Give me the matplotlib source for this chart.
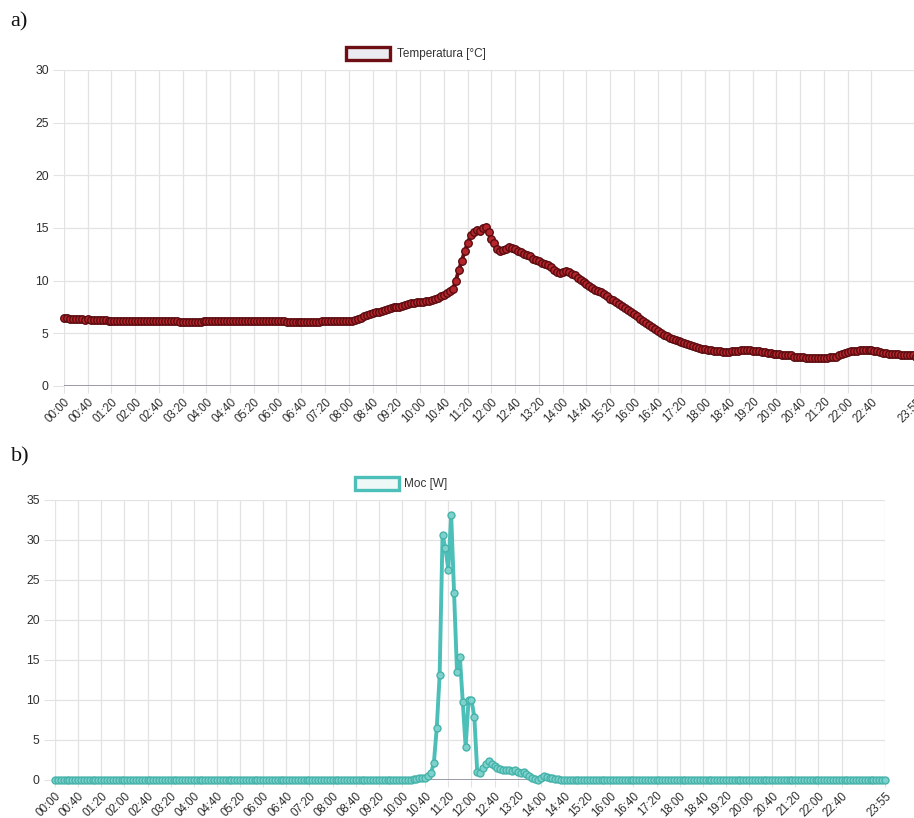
import matplotlib
matplotlib.use("Agg")
import matplotlib.pyplot as plt
from matplotlib.patches import Rectangle

# 5-minute sampling over one day: 00:00 ... 23:55 (288 samples)
times = [f"{h:02d}:{m:02d}" for h in range(24) for m in range(0, 60, 5)]

# Temperature [°C], one row per hour
temperature = [
    6.5, 6.5, 6.4, 6.4, 6.4, 6.4, 6.4, 6.3, 6.4, 6.3, 6.3, 6.3,
    6.3, 6.3, 6.3, 6.2, 6.2, 6.2, 6.2, 6.2, 6.2, 6.2, 6.2, 6.2,
    6.2, 6.2, 6.2, 6.2, 6.2, 6.2, 6.2, 6.2, 6.2, 6.2, 6.2, 6.2,
    6.2, 6.2, 6.2, 6.1, 6.1, 6.1, 6.1, 6.1, 6.1, 6.1, 6.1, 6.2,
    6.2, 6.2, 6.2, 6.2, 6.2, 6.2, 6.2, 6.2, 6.2, 6.2, 6.2, 6.2,
    6.2, 6.2, 6.2, 6.2, 6.2, 6.2, 6.2, 6.2, 6.2, 6.2, 6.2, 6.2,
    6.2, 6.2, 6.2, 6.1, 6.1, 6.1, 6.1, 6.1, 6.1, 6.1, 6.1, 6.1,
    6.1, 6.1, 6.1, 6.2, 6.2, 6.2, 6.2, 6.2, 6.2, 6.2, 6.2, 6.2,
    6.2, 6.2, 6.3, 6.4, 6.5, 6.6, 6.7, 6.8, 6.9, 7.0, 7.0, 7.1,
    7.2, 7.3, 7.4, 7.5, 7.5, 7.5, 7.6, 7.7, 7.8, 7.9, 7.9, 8.0,
    8.0, 8.0, 8.1, 8.1, 8.2, 8.3, 8.4, 8.5, 8.6, 8.8, 9.0, 9.2,
    10.0, 11.0, 11.9, 12.8, 13.6, 14.3, 14.6, 14.8, 14.7, 15.0, 15.1, 14.6,
    14.0, 13.6, 13.0, 12.8, 12.9, 13.0, 13.2, 13.1, 13.0, 12.8, 12.7, 12.5,
    12.4, 12.3, 12.1, 12.0, 11.9, 11.7, 11.6, 11.5, 11.3, 11.0, 10.8, 10.7,
    10.8, 10.9, 10.8, 10.6, 10.5, 10.3, 10.1, 9.9, 9.7, 9.5, 9.3, 9.1,
    9.0, 8.9, 8.7, 8.5, 8.3, 8.2, 8.0, 7.8, 7.6, 7.4, 7.2, 7.0,
    6.8, 6.6, 6.4, 6.2, 6.0, 5.8, 5.6, 5.4, 5.2, 5.0, 4.8, 4.7,
    4.6, 4.5, 4.4, 4.3, 4.2, 4.1, 4.0, 3.9, 3.8, 3.7, 3.6, 3.5,
    3.5, 3.4, 3.4, 3.3, 3.3, 3.3, 3.2, 3.2, 3.2, 3.3, 3.3, 3.3,
    3.4, 3.4, 3.4, 3.4, 3.3, 3.3, 3.3, 3.2, 3.2, 3.1, 3.1, 3.0,
    3.0, 3.0, 2.9, 2.9, 2.9, 2.9, 2.8, 2.8, 2.8, 2.8, 2.7, 2.7,
    2.7, 2.7, 2.7, 2.7, 2.7, 2.7, 2.8, 2.8, 2.8, 2.9, 3.0, 3.1,
    3.2, 3.3, 3.3, 3.3, 3.4, 3.4, 3.4, 3.4, 3.4, 3.3, 3.3, 3.2,
    3.1, 3.1, 3.0, 3.0, 3.0, 3.0, 2.9, 2.9, 2.9, 2.9, 2.9, 2.8,
]

# Power [W], one row per hour
power = [
    0.0, 0.0, 0.0, 0.0, 0.0, 0.0, 0.0, 0.0, 0.0, 0.0, 0.0, 0.0,
    0.0, 0.0, 0.0, 0.0, 0.0, 0.0, 0.0, 0.0, 0.0, 0.0, 0.0, 0.0,
    0.0, 0.0, 0.0, 0.0, 0.0, 0.0, 0.0, 0.0, 0.0, 0.0, 0.0, 0.0,
    0.0, 0.0, 0.0, 0.0, 0.0, 0.0, 0.0, 0.0, 0.0, 0.0, 0.0, 0.0,
    0.0, 0.0, 0.0, 0.0, 0.0, 0.0, 0.0, 0.0, 0.0, 0.0, 0.0, 0.0,
    0.0, 0.0, 0.0, 0.0, 0.0, 0.0, 0.0, 0.0, 0.0, 0.0, 0.0, 0.0,
    0.0, 0.0, 0.0, 0.0, 0.0, 0.0, 0.0, 0.0, 0.0, 0.0, 0.0, 0.0,
    0.0, 0.0, 0.0, 0.0, 0.0, 0.0, 0.0, 0.0, 0.0, 0.0, 0.0, 0.0,
    0.0, 0.0, 0.0, 0.0, 0.0, 0.0, 0.0, 0.0, 0.0, 0.0, 0.0, 0.0,
    0.0, 0.0, 0.0, 0.0, 0.0, 0.0, 0.0, 0.0, 0.0, 0.0, 0.0, 0.0,
    0.0, 0.0, 0.0, 0.0, 0.1, 0.1, 0.2, 0.2, 0.3, 0.5, 0.9, 2.1,
    6.5, 13.1, 30.6, 29.0, 26.3, 33.1, 23.4, 13.5, 15.4, 9.8, 4.1, 10.0,
    10.0, 7.9, 1.0, 0.9, 1.5, 2.0, 2.4, 2.0, 1.7, 1.5, 1.4, 1.3,
    1.3, 1.2, 1.1, 1.2, 1.0, 0.9, 1.0, 0.8, 0.5, 0.3, 0.1, 0.0,
    0.3, 0.5, 0.4, 0.3, 0.2, 0.1, 0.1, 0.0, 0.0, 0.0, 0.0, 0.0,
    0.0, 0.0, 0.0, 0.0, 0.0, 0.0, 0.0, 0.0, 0.0, 0.0, 0.0, 0.0,
    0.0, 0.0, 0.0, 0.0, 0.0, 0.0, 0.0, 0.0, 0.0, 0.0, 0.0, 0.0,
    0.0, 0.0, 0.0, 0.0, 0.0, 0.0, 0.0, 0.0, 0.0, 0.0, 0.0, 0.0,
    0.0, 0.0, 0.0, 0.0, 0.0, 0.0, 0.0, 0.0, 0.0, 0.0, 0.0, 0.0,
    0.0, 0.0, 0.0, 0.0, 0.0, 0.0, 0.0, 0.0, 0.0, 0.0, 0.0, 0.0,
    0.0, 0.0, 0.0, 0.0, 0.0, 0.0, 0.0, 0.0, 0.0, 0.0, 0.0, 0.0,
    0.0, 0.0, 0.0, 0.0, 0.0, 0.0, 0.0, 0.0, 0.0, 0.0, 0.0, 0.0,
    0.0, 0.0, 0.0, 0.0, 0.0, 0.0, 0.0, 0.0, 0.0, 0.0, 0.0, 0.0,
    0.0, 0.0, 0.0, 0.0, 0.0, 0.0, 0.0, 0.0, 0.0, 0.0, 0.0, 0.0,
]

temp_label = "Temperatura [°C]"
power_label = "Moc [W]"
temp_yticks = [0, 5, 10, 15, 20, 25, 30]
power_yticks = [0, 5, 10, 15, 20, 25, 30, 35]

# tick every 40 minutes plus the last sample
tick_idx = list(range(0, 288, 8))[:-1] + [287]
tick_lbl = [times[i] for i in tick_idx]

W, H = 914, 818
fig = plt.figure(figsize=(W / 100, H / 100), dpi=100)
fig.patch.set_facecolor("white")

FONT = "Liberation Sans"
GRID = "#e3e3e3"
TXT = "#2e2e2e"


def px_rect(l, t, r, b):
    return [l / W, 1 - b / H, (r - l) / W, (b - t) / H]


def style_axes(ax, ymax, yticks):
    x = list(range(len(times)))
    ax.set_xlim(0, len(times) - 1)
    ax.set_ylim(0, ymax)
    ax.set_yticks(yticks)
    ax.set_xticks(tick_idx)
    ax.set_xticklabels(tick_lbl, rotation=45, ha="right",
                       rotation_mode="anchor", fontsize=8.3,
                       family=FONT, color=TXT)
    ax.set_yticklabels([str(v) for v in yticks], fontsize=8.8,
                       family=FONT, color=TXT)
    for s in ax.spines.values():
        s.set_visible(False)
    ax.grid(True, color=GRID, linewidth=0.9)
    ax.set_axisbelow(True)
    ax.tick_params(axis="y", length=8, color=GRID, pad=3)
    ax.tick_params(axis="x", length=5, color=GRID, pad=2)
    ax.axhline(0, color="#8a8a9c", linewidth=1.2, zorder=1)
    return x


# a) temperature
ax1 = fig.add_axes(px_rect(64, 70, 916, 386))
x = style_axes(ax1, 30, temp_yticks)
ax1.plot(x, temperature, color="#6e0f15", linewidth=2.8,
         marker="o", markersize=5.4, markerfacecolor="#b5262c",
         markeredgecolor="#5a0c10", markeredgewidth=1.0, zorder=3,
         clip_on=False)

# b) power
ax2 = fig.add_axes(px_rect(55, 500, 885, 780))
x = style_axes(ax2, 35, power_yticks)
ax2.plot(x, power, color="#4bbfb8", linewidth=2.8,
         marker="o", markersize=5.0, markerfacecolor="#7ed2cc",
         markeredgecolor="#46b3ab", markeredgewidth=1.0, zorder=3,
         clip_on=False)

# panel letters
fig.text(10 / W, 1 - 22 / H, "a)", fontsize=16, family="Liberation Serif",
         va="center", ha="left", color="#111")
fig.text(11 / W, 1 - 457 / H, "b)", fontsize=16, family="Liberation Serif",
         va="center", ha="left", color="#111")

# legends (box + label), drawn in figure pixels
def legend(l, t, r, b, edge, face, label, tx):
    fig.patches.append(Rectangle((l / W, 1 - b / H), (r - l) / W, (b - t) / H,
                                 transform=fig.transFigure, facecolor=face,
                                 edgecolor=edge, linewidth=2.4))
    fig.text(tx / W, 1 - ((t + b) / 2) / H, label, fontsize=8.5, family=FONT,
             color="#333", va="center", ha="left")


legend(346, 47, 390, 60, "#6e0f15", "#ebebf1", temp_label, 397)
legend(355, 477, 399, 490, "#4bbfb8", "#eef8f7", power_label, 404)

fig.savefig("out.png", dpi=100, facecolor="white")
